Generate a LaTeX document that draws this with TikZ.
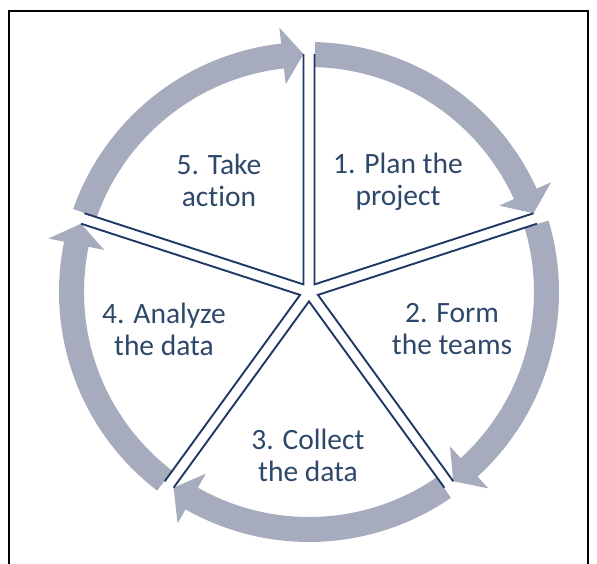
\documentclass[tikz,border=0pt]{standalone}
\usepackage{fontspec}
\setmainfont{Carlito}[Ligatures=NoCommon]
\definecolor{ringgray}{RGB}{166,172,189}
\definecolor{spokeblue}{RGB}{31,56,100}
\definecolor{labelblue}{RGB}{46,72,106}
\begin{document}
\begin{tikzpicture}[x=1pt,y=1pt,
  ring/.style={fill=ringgray},
  spoke/.style={draw=spokeblue,line width=1.9pt,line join=miter},
  steplabel/.style={text=labelblue,align=center,inner sep=0pt,
    font=\fontsize{29.5}{32}\selectfont}]
\useasboundingbox (-309,-271) rectangle (288,292);
\draw[line width=2.5pt] (-300,-275) -- (-300,281) -- (279,281) -- (279,-275);

\fill[ring] (88.6:250) arc[start angle=88.6,end angle=24.4,radius=250] -- (24.4:266)
  -- (19.32:238) -- (24.4:209) -- (24.4:225) arc[start angle=24.4,end angle=88.6,radius=225] -- cycle;
\fill[ring] (16.6:250) arc[start angle=16.6,end angle=-47.6,radius=250] -- (-47.6:266)
  -- (-52.68:238) -- (-47.6:209) -- (-47.6:225) arc[start angle=-47.6,end angle=16.6,radius=225] -- cycle;
\fill[ring] (-55.4:250) arc[start angle=-55.4,end angle=-119.6,radius=250] -- (-119.6:266)
  -- (-124.68:238) -- (-119.6:209) -- (-119.6:225) arc[start angle=-119.6,end angle=-55.4,radius=225] -- cycle;
\fill[ring] (-127.4:250) arc[start angle=-127.4,end angle=-191.6,radius=250] -- (-191.6:266)
  -- (-196.68:238) -- (-191.6:209) -- (-191.6:225) arc[start angle=-191.6,end angle=-127.4,radius=225] -- cycle;
\fill[ring] (160.6:250) arc[start angle=160.6,end angle=96.4,radius=250] -- (96.4:266)
  -- (91.32:238) -- (96.4:209) -- (96.4:225) arc[start angle=96.4,end angle=160.6,radius=225] -- cycle;

\draw[spoke] (88.68:238) -- (54:9.4) -- (19.32:238);
\draw[spoke] (16.68:238) -- (-18:9.4) -- (-52.68:238);
\draw[spoke] (-55.32:238) -- (-90:9.4) -- (-124.68:238);
\draw[spoke] (-127.32:238) -- (-162:9.4) -- (-196.68:238);
\draw[spoke] (160.68:238) -- (126:9.4) -- (91.32:238);

\node[steplabel] (plan) at (89,110) {1. Plan the\\project};
\node[steplabel] (teams) at (143,-37) {2. Form\\the teams};
\node[steplabel] (collect) at (-1,-163) {3. Collect\\the data};
\node[steplabel] (analyze) at (-145,-37) {4. Analyze\\the data};
\node[steplabel] (action) at (-90,112) {5. Take\\action};
\end{tikzpicture}
\end{document}
